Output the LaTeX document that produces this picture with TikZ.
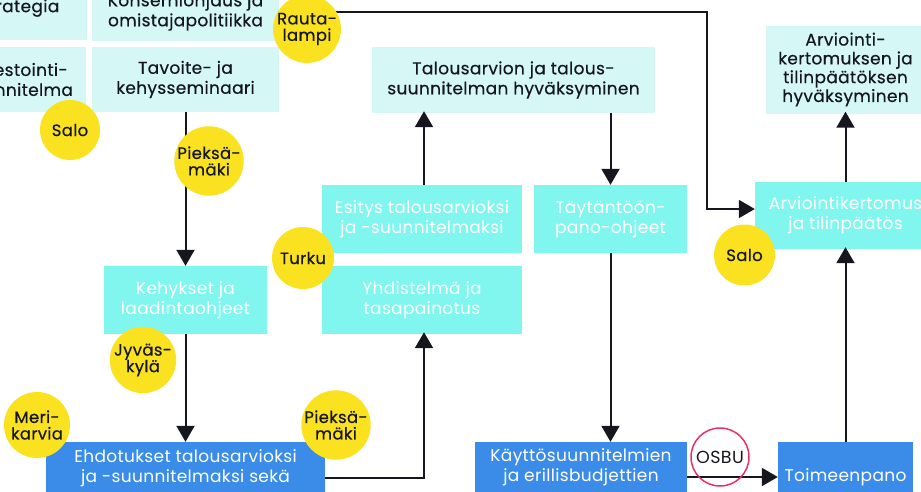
\documentclass[tikz,border=0pt]{standalone}
\usepackage{fontspec}
\setmainfont{Poppins}[LetterSpace=2]
\newfontfamily\medfont{Poppins}[LetterSpace=2,FakeBold=0.45]
\usetikzlibrary{arrows.meta}
\definecolor{paleC}{RGB}{213,248,246}
\definecolor{brightC}{RGB}{128,246,238}
\definecolor{blueC}{RGB}{59,140,232}
\definecolor{yellowC}{RGB}{250,226,32}
\definecolor{pinkC}{RGB}{232,50,100}
\definecolor{ink}{RGB}{22,22,30}
\begin{document}
\begin{tikzpicture}[x=1pt,y=-1pt,
  box/.style={inner sep=0pt, align=center},
  pale/.style={box, fill=paleC, text=ink, font=\medfont\fontsize{17}{20}\selectfont},
  bright/.style={box, fill=brightC, text=white, font=\fontsize{17}{20}\selectfont},
  bluebox/.style={box, fill=blueC, text=white, font=\fontsize{17}{20}\selectfont},
  txt/.style={inner sep=0pt, align=center, font=\fontsize{17}{20}\selectfont},
  city/.style={circle, fill=yellowC, text=ink, inner sep=0pt, minimum size=#1, align=center, font=\medfont\fontsize{16.5}{16.5}\selectfont},
  city/.default=62pt,
  ring/.style={circle, draw=pinkC, line width=1.5pt, text=ink, inner sep=0pt, minimum size=58pt, font=\fontsize{17.5}{18}\selectfont},
  arr/.style={line width=2pt, draw=ink, -{Triangle[length=16pt,width=18pt]}},
  ln/.style={line width=2pt, draw=ink},
]
\useasboundingbox (0,0) rectangle (921,491);
\clip (0,0) rectangle (921,491);

% pale boxes
\node[pale, minimum width=136pt, minimum height=64pt] (Strat) at (19,8) {Strategia};
\node[pale, minimum width=187pt, minimum height=58pt] (Kons) at (185.5,12) {Konserniohjaus ja\\omistajapolitiikka};
\node[pale, minimum width=136pt, minimum height=65pt] (Inv) at (18,79.5) {Investointi-\\suunnitelma};
\node[pale, minimum width=187pt, minimum height=65pt] (Tav) at (185.5,79.5) {Tavoite- ja\\kehysseminaari};
\node[pale, minimum width=283pt, minimum height=66pt] (Tal) at (513.5,80) {Talousarvion ja talous-\\suunnitelman hyväksyminen};
\node[pale, minimum width=159pt, minimum height=88pt, font=\medfont\fontsize{17}{18.8}\selectfont] (Arv) at (845.5,69.5) {Arviointi-\\kertomuksen ja\\tilinpäätöksen\\hyväksyminen};

% bright boxes
\node[bright, minimum width=200pt, minimum height=68pt] (Esi) at (422,219) {Esitys talousarvioksi\\ja -suunnitelmaksi};
\node[bright, minimum width=153pt, minimum height=68pt] (Tay) at (610.5,219) {Täytäntöön-\\pano-ohjeet};
\node[bright, minimum width=181pt, minimum height=67pt] (ArK) at (845.5,215.5) {Arviointikertomus\\ja tilinpäätös};
\node[bright, minimum width=163pt, minimum height=68pt] (Keh) at (185.5,300) {Kehykset ja\\laadintaohjeet};
\node[bright, minimum width=200pt, minimum height=68pt] (Yhd) at (422,300) {Yhdistelmä ja\\tasapainotus};

% blue boxes
\node[bluebox, minimum width=279pt, minimum height=72pt] (Ehd) at (185.5,478) {};
\node[txt, text=white] (EhdT) at (185.5,468) {Ehdotukset talousarvioksi\\ja -suunnitelmaksi sekä};
\node[bluebox, minimum width=212pt, minimum height=70pt] (Kay) at (581,477) {};
\node[txt, text=white] (KayT) at (581,467.5) {Käyttösuunnitelmien\\ja erillisbudjettien};
\node[bluebox, minimum width=135pt, minimum height=70pt] (Toi) at (845.5,477) {Toimeenpano};

% connectors
\coordinate (rs) at (307,12);
\coordinate (rc) at (707,12);
\coordinate (rd) at (707,209);
\draw[arr] (rs) -- (rc) -- (rd) -- (rd -| ArK.west);
\draw[arr] (Tav.south) -- (Keh.north);
\draw[arr] (Keh.south) -- (Ehd.north);
\coordinate (eu) at (424,478);
\draw[arr] (Ehd.east) -- (eu) -- ([yshift=2pt]eu |- Yhd.south);
\coordinate (eb) at (424,185);
\draw[arr] (eb) -- ([yshift=2pt]eb |- Tal.south);
\coordinate (tb) at (610.5,113);
\draw[arr] (tb) -- (tb |- Tay.north);
\draw[arr] (Tay.south) -- (Tay.south |- Kay.north);
\draw[arr] (Kay.east) -- (Toi.west);
\draw[arr] (Toi.north) -- ([yshift=2pt]ArK.south);
\draw[arr] (ArK.north) -- ([yshift=2pt]Arv.south);

% cities
\node[city] (Rau) at (307,29) {Rauta-\\lampi};
\node[city=60pt] (Salo1) at (70,130) {Salo};
\node[city=66pt] (Pie1) at (209,161) {Pieksä-\\mäki};
\node[city] (Tur) at (303,258) {Turku};
\node[city=66pt] (Jyv) at (143,360) {Jyväs-\\kylä};
\node[city=66pt] (Mer) at (37,425) {Meri-\\karvia};
\node[city=66pt] (Pie2) at (336,425) {Pieksä-\\mäki};
\node[city=61pt] (Salo2) at (744.5,255) {Salo};
\node[ring] (Osbu) at (720,457) {OSBU};
\end{tikzpicture}
\end{document}
